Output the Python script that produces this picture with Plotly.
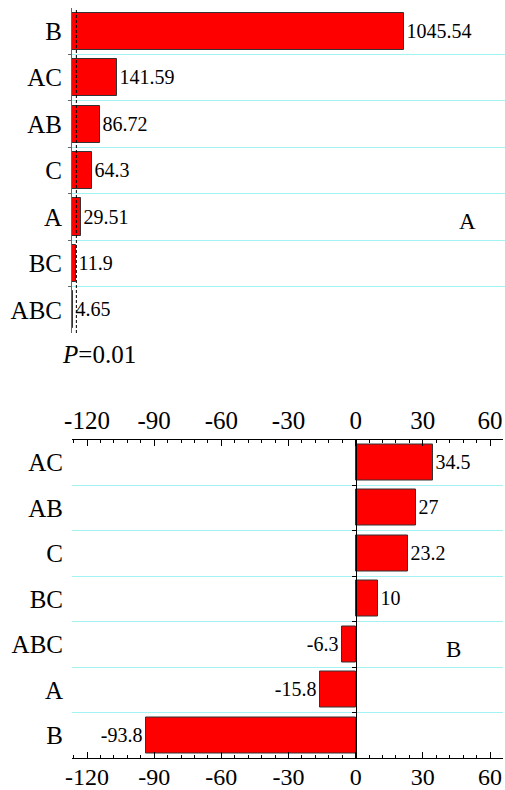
import plotly.graph_objects as go

# Panel A: F values of the effects (top to bottom)
effects_a = ["B", "AC", "AB", "C", "A", "BC", "ABC"]
fvals_a = [1045.54, 141.59, 86.72, 64.3, 29.51, 11.9, 4.65]
f_crit = 13.75          # critical F at P = 0.01

# Panel B: standardized effects (top to bottom)
effects_b = ["AC", "AB", "C", "BC", "ABC", "A", "B"]
effs_b = [34.5, 27, 23.2, 10, -6.3, -15.8, -93.8]
ticks_b = [-120, -90, -60, -30, 0, 30, 60]
ticklabels_b = ["-120", "-90", "-60", "-30", "0", "30", "60"]

SERIF = "Liberation Serif, Times New Roman, serif"
GRID = "#a3f3f3"
RED = "#ff0000"
W, H = 505, 790

pos_a = list(range(len(effects_a)))
pos_b = list(range(len(effects_b)))
bounds_a = [p + 0.5 for p in pos_a[:-1]]
bounds_b = [p + 0.5 for p in pos_b[:-1]]

xa_range = [0, 1364]
xb_range = [-126.7, 65.8]
xb_dom = [72 / W, 503 / W]

fig = go.Figure()

fig.add_trace(go.Bar(
    x=fvals_a, y=pos_a, orientation="h", width=0.8,
    marker=dict(color=RED, line=dict(color="#333333", width=1)),
    text=[f"{v:g}" for v in fvals_a], textposition="outside",
    textfont=dict(family=SERIF, size=20, color="black"),
    constraintext="none", cliponaxis=False,
    xaxis="x", yaxis="y", showlegend=False,
))

fig.add_trace(go.Bar(
    x=effs_b, y=pos_b, orientation="h", width=0.8,
    marker=dict(color=RED, line=dict(color="#333333", width=1)),
    text=[f"{v:g}" for v in effs_b], textposition="outside",
    textfont=dict(family=SERIF, size=20, color="black"),
    constraintext="none", cliponaxis=False,
    xaxis="x2", yaxis="y2", showlegend=False,
))

# helper traces so the overlay axes get drawn
fig.add_trace(go.Scatter(x=[0], y=[0], mode="markers", marker=dict(opacity=0),
                         hoverinfo="skip", showlegend=False, xaxis="x3", yaxis="y2"))
fig.add_trace(go.Scatter(x=[0], y=[0], mode="markers", marker=dict(opacity=0),
                         hoverinfo="skip", showlegend=False, xaxis="x2", yaxis="y3"))

zero_pos = xb_dom[0] + (0 - xb_range[0]) / (xb_range[1] - xb_range[0]) * (xb_dom[1] - xb_dom[0])

cat_font = dict(family=SERIF, size=25, color="black")
num_font = dict(family=SERIF, size=25, color="black")

fig.update_layout(
    width=W, height=H,
    margin=dict(l=0, r=0, t=0, b=0, autoexpand=False),
    paper_bgcolor="white", plot_bgcolor="white",
    font=dict(family=SERIF, color="black"),
    bargap=0,
    xaxis=dict(domain=[72 / W, 1], range=xa_range, anchor="y", automargin=False,
               visible=False, showgrid=False, zeroline=False),
    yaxis=dict(domain=[1 - 333 / H, 1 - 8 / H], range=[6.5, -0.5], anchor="x",
               automargin=False,
               tickmode="array", tickvals=pos_a, ticktext=effects_a,
               tickfont=cat_font, ticks="", ticklabelstandoff=4,
               showline=True, linecolor="#666666", linewidth=1,
               showgrid=False, zeroline=False,
               minor=dict(tickmode="array", tickvals=bounds_a, showgrid=True,
                          gridcolor=GRID, gridwidth=1, ticks="outside",
                          ticklen=3, tickcolor="#666666")),
    xaxis2=dict(domain=xb_dom, range=xb_range, anchor="y2", side="bottom",
                automargin=False,
                tickmode="array", tickvals=ticks_b, ticktext=ticklabels_b,
                tickfont=dict(family=SERIF, size=24, color="black"),
                ticklabelstandoff=-3,
                ticks="inside", ticklen=6, tickcolor="black",
                showline=True, linecolor="black", linewidth=1,
                showgrid=False, zeroline=False,
                minor=dict(dtick=6, tick0=0, ticks="inside", ticklen=3,
                           tickcolor="black", showgrid=False)),
    xaxis3=dict(overlaying="x2", matches="x2", range=xb_range, anchor="y2", side="top",
                automargin=False,
                tickmode="array", tickvals=ticks_b, ticktext=ticklabels_b,
                tickfont=num_font,
                ticks="inside", ticklen=6, tickcolor="black",
                showline=True, linecolor="black", linewidth=1,
                showgrid=False, zeroline=False,
                minor=dict(dtick=6, tick0=0, ticks="inside", ticklen=3,
                           tickcolor="black", showgrid=False)),
    yaxis2=dict(domain=[1 - 758 / H, 1 - 439.5 / H], range=[6.5, -0.5], anchor="x2",
                automargin=False,
                tickmode="array", tickvals=pos_b, ticktext=effects_b,
                tickfont=cat_font, ticks="", ticklabelstandoff=8,
                showline=False, showgrid=False, zeroline=False,
                minor=dict(tickmode="array", tickvals=bounds_b, showgrid=True,
                           gridcolor=GRID, gridwidth=1, ticks="")),
    yaxis3=dict(overlaying="y2", matches="y2", range=[6.5, -0.5], anchor="free",
                automargin=False,
                position=zero_pos, showticklabels=False, ticks="",
                showline=True, linecolor="black", linewidth=1,
                showgrid=False, zeroline=False,
                minor=dict(tickmode="array", tickvals=bounds_b, ticks="outside",
                           ticklen=4, tickcolor="black", showgrid=False)),
    shapes=[dict(type="line", xref="x", yref="y domain", x0=f_crit, x1=f_crit,
                 y0=0, y1=1, line=dict(color="black", width=1, dash="3px,2px"))],
    annotations=[
        dict(text="A", x=467 / W, y=1 - 222 / H, xref="paper", yref="paper",
             xanchor="center", yanchor="middle", showarrow=False,
             font=dict(family=SERIF, size=23, color="black")),
        dict(text="B", x=453.5 / W, y=1 - 649 / H, xref="paper", yref="paper",
             xanchor="center", yanchor="middle", showarrow=False,
             font=dict(family=SERIF, size=23, color="black")),
        dict(text="<i>P</i>=0.01", x=99 / W, y=1 - 355 / H, xref="paper", yref="paper",
             xanchor="center", yanchor="middle", showarrow=False,
             font=dict(family=SERIF, size=25, color="black")),
    ],
)

fig.write_html("out.html")
